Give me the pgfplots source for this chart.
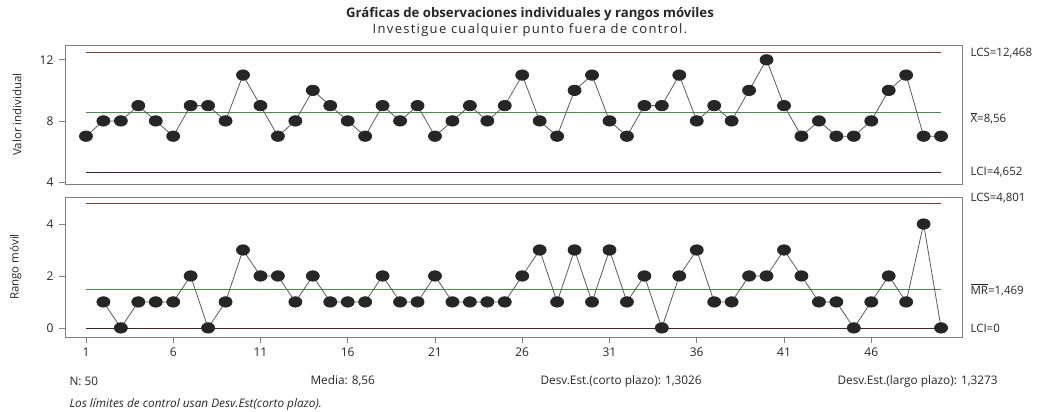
\documentclass[border=0pt]{standalone}
\usepackage{pgfplots}
\pgfplotsset{compat=1.18}
\usepackage{pgfplotstable}
\usepackage{fontspec}
\setmainfont{Open Sans}
\definecolor{limc}{HTML}{7A3A3A}
\definecolor{cenc}{HTML}{4E8A4E}
\definecolor{ptc}{HTML}{262626}
\definecolor{lnc}{HTML}{5A5A5A}
\definecolor{axc}{HTML}{7F7F7F}
\pgfplotstableread{
x y
1 7
2 8
3 8
4 9
5 8
6 7
7 9
8 9
9 8
10 11
11 9
12 7
13 8
14 10
15 9
16 8
17 7
18 9
19 8
20 9
21 7
22 8
23 9
24 8
25 9
26 11
27 8
28 7
29 10
30 11
31 8
32 7
33 9
34 9
35 11
36 8
37 9
38 8
39 10
40 12
41 9
42 7
43 8
44 7
45 7
46 8
47 10
48 11
49 7
50 7
}\indiv
\pgfplotstableread{
x y
2 1
3 0
4 1
5 1
6 1
7 2
8 0
9 1
10 3
11 2
12 2
13 1
14 2
15 1
16 1
17 1
18 2
19 1
20 1
21 2
22 1
23 1
24 1
25 1
26 2
27 3
28 1
29 3
30 1
31 3
32 1
33 2
34 0
35 2
36 3
37 1
38 1
39 2
40 2
41 3
42 2
43 1
44 1
45 0
46 1
47 2
48 1
49 4
50 0
}\mr
\pgfplotsset{
  cc/.style={
    scale only axis, width=897pt,
    xmin=-0.2, xmax=51.2,
    axis line style={axc, line width=0.8pt},
    tick style={axc, line width=0.8pt},
    tick align=outside, major tick length=6pt,
    ytick pos=left, xtick pos=bottom,
    /pgf/number format/assume math mode=true,
    tick label style={font=\fontsize{12}{14}\selectfont, black!85},
    yticklabel style={xshift=-2pt},
    ylabel style={font=\fontsize{11.5}{13}\selectfont, black!85},
    clip=false,
    every axis plot/.append style={line width=0.8pt},
  },
  dat/.style={lnc, line width=0.8pt, mark=*, mark size=5.2pt,
    mark options={xscale=1.25, fill=ptc, draw=ptc, solid}},
}
\tikzset{rl/.style={anchor=west, font=\fontsize{11.5}{13}\selectfont, black!85, xshift=5pt}}
\begin{document}
\begin{tikzpicture}
\useasboundingbox (0pt,0pt) rectangle (1047pt,-412pt);
\node[font=\bfseries\fontsize{13.2}{15}\selectfont, black!85] at (530pt,-14pt) {Gráficas de observaciones individuales y rangos móviles};
\node[font=\fontsize{13}{15}\selectfont\addfontfeature{LetterSpace=10}, black!85] at (530pt,-30pt) {Investigue cualquier punto fuera de control.};
\begin{axis}[cc, at={(65pt,-45pt)}, anchor=north west, height=139pt,
  ymin=3.87, ymax=12.97, ytick={4,8,12}, xtick=\empty,
  ylabel={Valor individual}, ylabel style={at={(rel axis cs:0,0.5)}, yshift=40pt}]
\addplot[limc, no marks] coordinates {(1,12.468) (50,12.468)};
\addplot[limc!60!black, no marks] coordinates {(1,4.652) (50,4.652)};
\addplot[cenc, no marks] coordinates {(1,8.56) (50,8.56)};
\addplot[dat] table[x=x,y=y] {\indiv};
\node[rl] at (axis cs:51.2,12.468) {LCS=12,468};
\node[rl] at (axis cs:51.2,8.15) {$\overline{\mbox{X}}$=8,56};
\node[rl] at (axis cs:51.2,4.652) {LCI=4,652};
\end{axis}
\begin{axis}[cc, at={(65pt,-197pt)}, anchor=north west, height=140pt,
  ymin=-0.35, ymax=5.04, ytick={0,2,4}, xtick={1,6,...,46},
  xticklabel style={yshift=-1pt},
  ylabel={Rango móvil}, ylabel style={at={(rel axis cs:0,0.5)}, yshift=40pt}]
\addplot[limc, no marks] coordinates {(1,4.801) (50,4.801)};
\addplot[limc!60!black, no marks] coordinates {(1,0) (50,0)};
\addplot[cenc, no marks] coordinates {(1,1.469) (50,1.469)};
\addplot[dat] table[x=x,y=y] {\mr};
\node[rl] at (axis cs:51.2,5.0) {LCS=4,801};
\node[rl] at (axis cs:51.2,1.469) {$\overline{\mbox{MR}}$=1,469};
\node[rl] at (axis cs:51.2,0) {LCI=0};
\end{axis}
\begin{scope}[every node/.style={anchor=west, font=\fontsize{11.8}{13}\selectfont, black!85}]
\node at (66pt,-381pt) {N: 50};
\node at (307pt,-381pt) {Media: 8,56};
\node at (537pt,-381pt) {Desv.Est.(corto plazo): 1,3026};
\node at (834pt,-381pt) {Desv.Est.(largo plazo): 1,3273};
\node[font=\itshape\fontsize{11.8}{13}\selectfont] at (66pt,-404pt) {Los límites de control usan Desv.Est(corto plazo).};
\end{scope}
\end{tikzpicture}
\end{document}
